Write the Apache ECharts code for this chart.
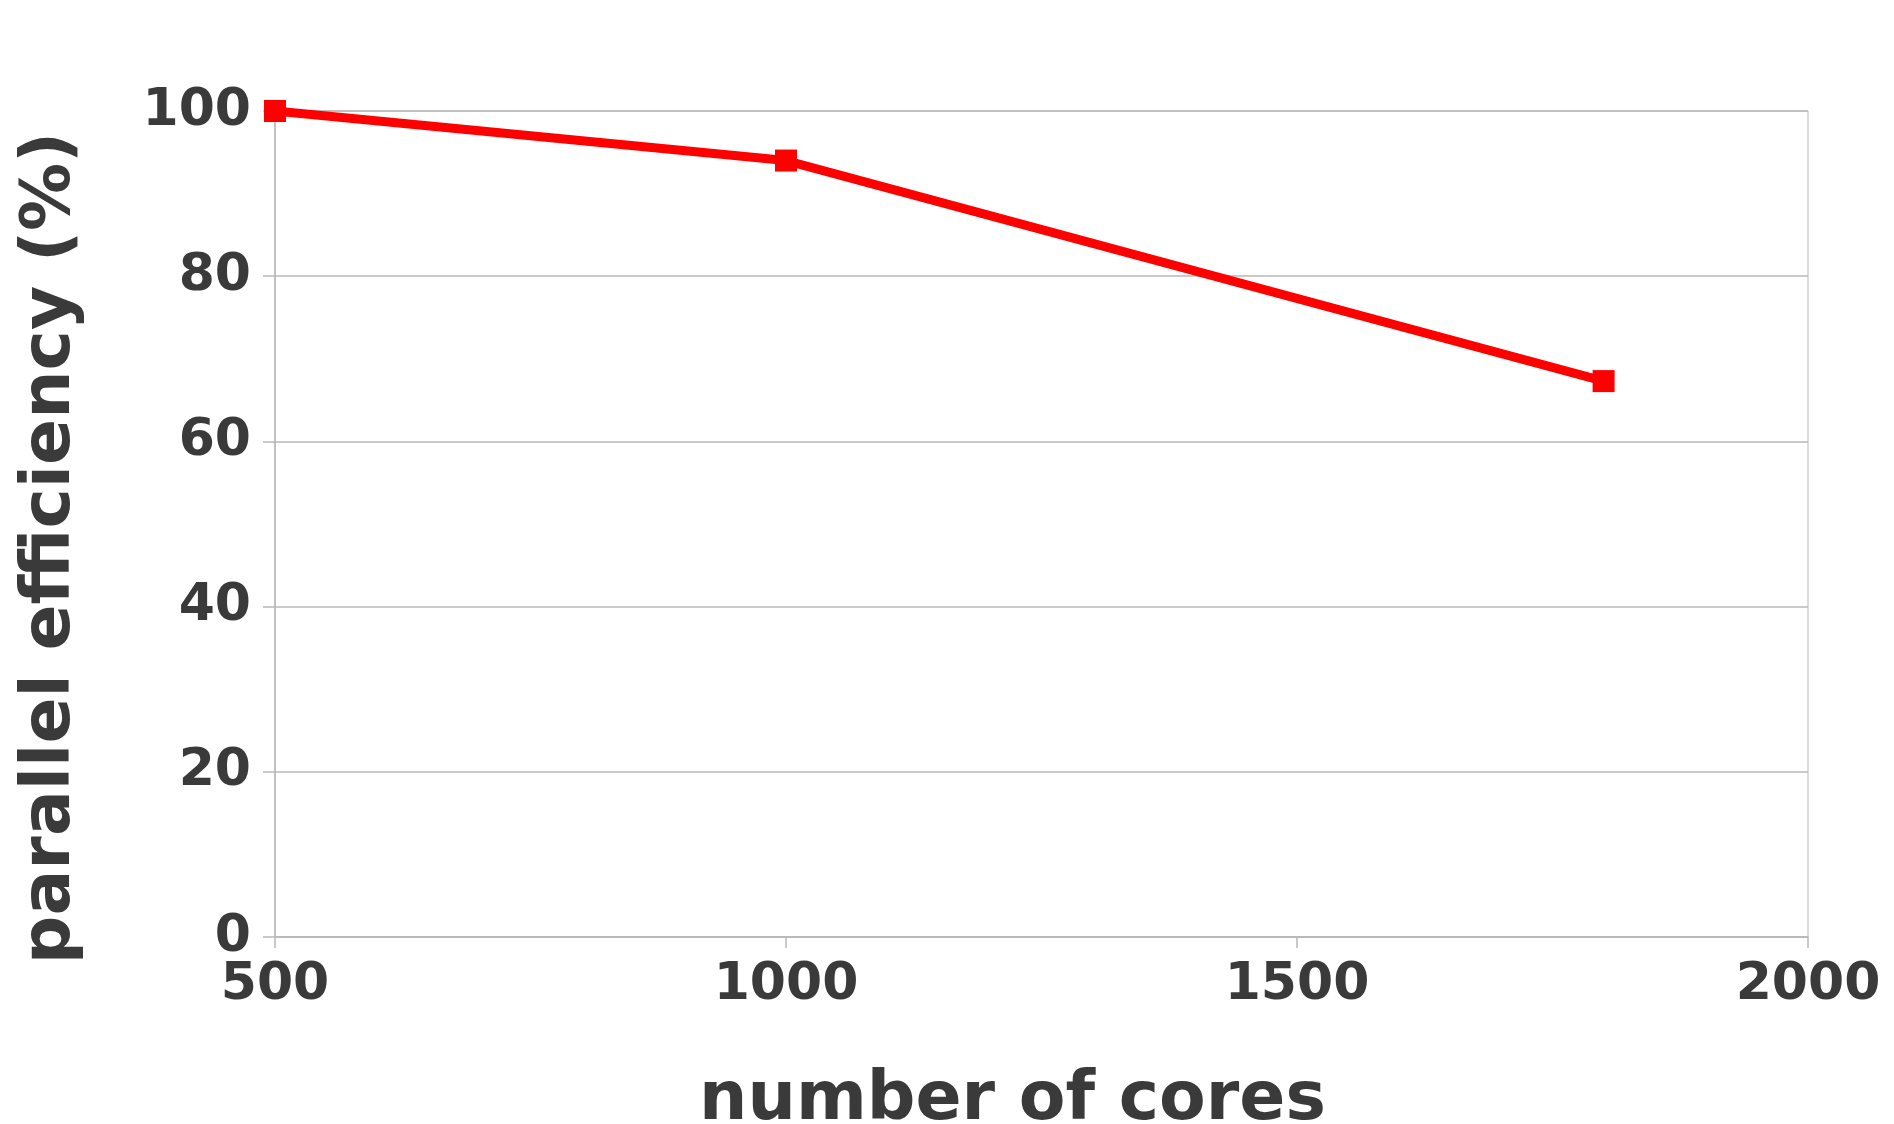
<!DOCTYPE html>
<html><head><meta charset="utf-8">
<script src="https://cdn.jsdelivr.net/npm/echarts@6/dist/echarts.min.js"></script>
<style>html,body{margin:0;padding:0;background:#fff}#c{width:1894px;height:1124px}</style>
</head><body><div id="c"></div>
<script>
const cores = [500, 1000, 1800];
const efficiency = [100, 94, 67.3];
const xTicks = [500, 1000, 1500, 2000];
const yTicks = [0, 20, 40, 60, 80, 100];

const chart = echarts.init(document.getElementById('c'), null, {renderer: 'canvas'});
const txt = '#3a3a3a', gridC = '#b8b8b8';
const font = '"DejaVu Sans", sans-serif';
chart.setOption({
  animation: false,
  grid: {left: 275, right: 86, top: 111, bottom: 187, show: true, borderColor: gridC, borderWidth: 1,
         containLabel: false, outerBoundsMode: 'none'},
  xAxis: {
    type: 'value', min: xTicks[0], max: xTicks[xTicks.length-1], interval: 500,
    name: 'number of cores', nameLocation: 'middle', nameGap: 130,
    nameTextStyle: {fontFamily: font, fontWeight: 'bold', fontSize: 68, color: txt, padding: [0, 58, 0, 0]},
    axisLine: {lineStyle: {color: gridC, width: 1.5}},
    axisTick: {show: true, length: 11, lineStyle: {color: gridC, width: 1.5}},
    axisLabel: {fontFamily: font, fontWeight: 'bold', fontSize: 52, color: txt, margin: 22,
                formatter: v => String(v)},
    splitLine: {show: false}
  },
  yAxis: {
    type: 'value', min: yTicks[0], max: yTicks[yTicks.length-1], interval: 20,
    name: 'parallel efficiency (%)', nameLocation: 'middle', nameGap: 190, nameRotate: 90,
    nameTextStyle: {fontFamily: font, fontWeight: 'bold', fontSize: 68, color: txt, padding: [0, 48, 0, 0]},
    axisLine: {show: true, lineStyle: {color: gridC, width: 1.5}},
    axisTick: {show: true, length: 12, lineStyle: {color: gridC, width: 1.5}},
    axisLabel: {fontFamily: font, fontWeight: 'bold', fontSize: 52, color: txt, margin: 24,
                formatter: v => String(v)},
    splitLine: {show: true, lineStyle: {color: gridC, width: 1.5}}
  },
  series: [{
    type: 'line', clip: false,
    data: cores.map((c, i) => [c, efficiency[i]]),
    symbol: 'rect', symbolSize: 22,
    lineStyle: {color: '#ff0000', width: 9},
    itemStyle: {color: '#ff0000'}
  }]
});
</script></body></html>
